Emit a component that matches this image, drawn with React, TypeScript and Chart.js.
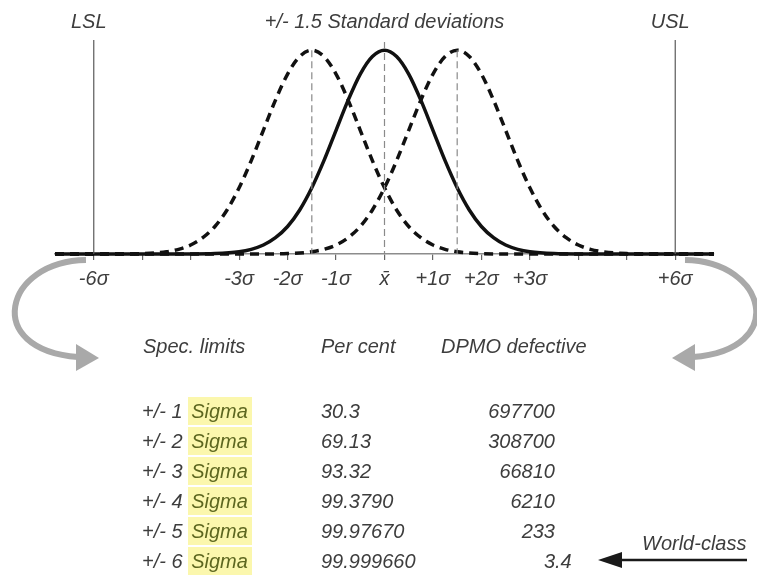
import { useEffect, useRef } from 'react';
import { Chart, registerables, type Plugin } from 'chart.js';

Chart.register(...registerables);

// ── Data ─────────────────────────────────────────────────────────────────────

const chartTitle = '+/- 1.5 Standard deviations';

// x axis, in standard deviations from the mean
const axisMin = -6.8;
const axisMax = 6.8;
const sigmaTicks = [-6, -5, -4, -3, -2, -1, 0, 1, 2, 3, 4, 5, 6];
const sigmaLabels = ['-6σ', '', '', '-3σ', '-2σ', '-1σ', 'x̄', '+1σ', '+2σ', '+3σ', '', '', '+6σ'];

// bell curve (relative height, peak = 1)
const curveSteps = [
  -4, -3.5, -3, -2.75, -2.5, -2.25, -2, -1.75, -1.5, -1.25, -1, -0.75, -0.5, -0.25, 0,
  0.25, 0.5, 0.75, 1, 1.25, 1.5, 1.75, 2, 2.25, 2.5, 2.75, 3, 3.5, 4,
];
const curveHeights = [
  0.0003, 0.002, 0.011, 0.023, 0.044, 0.08, 0.135, 0.216, 0.325, 0.458, 0.607, 0.755, 0.883, 0.969, 1,
  0.969, 0.883, 0.755, 0.607, 0.458, 0.325, 0.216, 0.135, 0.08, 0.044, 0.023, 0.011, 0.002, 0.0003,
];

const centerMean = 0;
const shiftedMeans = [-1.5, 1.5];
const specLimits = [-6, 6];
const specLabels = ['LSL', 'USL'];

// table
const tableHeaders = ['Spec. limits', 'Per cent', 'DPMO defective'];
const sigmaLevels = [1, 2, 3, 4, 5, 6];
const perCent = ['30.3', '69.13', '93.32', '99.3790', '99.97670', '99.999660'];
const dpmo = ['697700', '308700', '66810', '6210', '233', '3.4'];
const worldClassLabel = 'World-class';

// ── Styles ───────────────────────────────────────────────────────────────────

const FONT = '"Liberation Sans", Arial, Helvetica, sans-serif';
const INK = '#111111';
const TEXT = '#3d3d3d';
const ARROW_GREY = '#a9a9a9';

const W = 757;
const H = 575;

const annotations: Plugin<'line'> = {
  id: 'annotations',
  afterDraw(chart) {
    const { ctx } = chart;
    const xs = chart.scales.x;
    ctx.save();

    // LSL / USL labels
    ctx.font = `italic 20px ${FONT}`;
    ctx.fillStyle = TEXT;
    ctx.textAlign = 'center';
    ctx.textBaseline = 'middle';
    specLimits.forEach((v, i) => {
      ctx.fillText(specLabels[i], xs.getPixelForValue(v) - 5, 22);
    });

    // curved grey arrows from the axis ends down to the table
    const drawCurl = (dir: 1 | -1) => {
      const cx = 385.5;
      const mx = (x: number) => cx + dir * (x - cx);
      ctx.strokeStyle = ARROW_GREY;
      ctx.fillStyle = ARROW_GREY;
      ctx.lineWidth = 6;
      ctx.lineCap = 'butt';
      ctx.beginPath();
      ctx.moveTo(mx(86), 260);
      ctx.bezierCurveTo(mx(4), 261, mx(-18), 350, mx(78), 357);
      ctx.stroke();
      ctx.beginPath();
      ctx.moveTo(mx(99), 358);
      ctx.lineTo(mx(76), 344);
      ctx.lineTo(mx(76), 371);
      ctx.closePath();
      ctx.fill();
    };
    drawCurl(1);
    drawCurl(-1);

    // world-class arrow
    ctx.strokeStyle = '#1a1a1a';
    ctx.fillStyle = '#1a1a1a';
    ctx.lineWidth = 2.5;
    ctx.beginPath();
    ctx.moveTo(747, 560);
    ctx.lineTo(616, 560);
    ctx.stroke();
    ctx.beginPath();
    ctx.moveTo(598, 560);
    ctx.lineTo(622, 552);
    ctx.lineTo(622, 568);
    ctx.closePath();
    ctx.fill();

    ctx.restore();
  },
};

// curve around a mean, with flat tails running out to both axis ends
function curveData(mean: number) {
  return [
    { x: axisMin, y: 0 },
    ...curveSteps.map((s, i) => ({ x: mean + s, y: curveHeights[i] })),
    { x: axisMax, y: 0 },
  ].filter((p, i, arr) => i === 0 || p.x > arr[i - 1].x);
}

function verticalData(x: number, top: number) {
  return [{ x, y: top }, { x, y: 0 }];
}

export default function App() {
  const canvasRef = useRef<HTMLCanvasElement>(null);

  useEffect(() => {
    document.body.style.margin = '0';
    if (!canvasRef.current) return;

    const line = { pointRadius: 0, clip: false as const, fill: false, tension: 0 };

    const chart = new Chart(canvasRef.current, {
      type: 'line',
      data: {
        datasets: [
          // spec limits
          ...specLimits.map(v => ({
            ...line,
            data: verticalData(v, 1.05),
            borderColor: '#5a5a5a',
            borderWidth: 1.2,
          })),
          // mean markers
          {
            ...line,
            data: verticalData(centerMean, 1.04),
            borderColor: '#8a8a8a',
            borderWidth: 1.2,
            borderDash: [7, 4],
          },
          ...shiftedMeans.map(m => ({
            ...line,
            data: verticalData(m, 1),
            borderColor: '#8a8a8a',
            borderWidth: 1.2,
            borderDash: [7, 4],
          })),
          // shifted process curves
          ...shiftedMeans.map(m => ({
            ...line,
            data: curveData(m),
            borderColor: INK,
            borderWidth: 3.5,
            borderDash: [9, 6],
            cubicInterpolationMode: 'monotone' as const,
          })),
          // centred process
          {
            ...line,
            data: curveData(centerMean),
            borderColor: INK,
            borderWidth: 3.5,
            cubicInterpolationMode: 'monotone' as const,
          },
        ],
      },
      options: {
        responsive: true,
        maintainAspectRatio: false,
        animation: false,
        parsing: false,
        layout: { padding: { left: 55, right: 43, top: 0, bottom: 277 } },
        plugins: {
          legend: { display: false },
          tooltip: { enabled: false },
          title: {
            display: true,
            text: chartTitle,
            color: TEXT,
            font: { family: FONT, size: 20, style: 'italic', weight: 'normal' },
            padding: { top: 10, bottom: 6 },
          },
        },
        scales: {
          x: {
            type: 'linear',
            min: axisMin,
            max: axisMax,
            afterBuildTicks: scale => {
              scale.ticks = sigmaTicks.map(value => ({ value }));
            },
            grid: {
              display: true,
              drawOnChartArea: false,
              drawTicks: true,
              tickLength: 6,
              color: '#666666',
              lineWidth: 1.2,
            },
            border: { display: true, color: '#8c8c8c', width: 1.5 },
            ticks: {
              autoSkip: false,
              maxRotation: 0,
              padding: 7,
              color: TEXT,
              font: { family: FONT, size: 20, style: 'italic' },
              callback: (_v, i) => sigmaLabels[i] ?? '',
            },
          },
          y: { display: false, min: 0, max: 1.05 },
        },
      },
      plugins: [annotations],
    });

    return () => chart.destroy();
  }, []);

  const cell: React.CSSProperties = {
    position: 'absolute',
    fontFamily: FONT,
    fontStyle: 'italic',
    fontSize: '20px',
    color: TEXT,
    lineHeight: '30px',
    whiteSpace: 'nowrap',
  };
  const rowTop = (i: number) => 396 + i * 30;

  return (
    <div style={{ position: 'relative', width: W, height: H, background: '#fff', overflow: 'hidden' }}>
      <div style={{ position: 'absolute', left: 0, top: 0, width: W, height: H }}>
        <canvas ref={canvasRef} />
      </div>

      {/* Table headers */}
      <div style={{ ...cell, left: 143, top: 331 }}>{tableHeaders[0]}</div>
      <div style={{ ...cell, left: 321, top: 331 }}>{tableHeaders[1]}</div>
      <div style={{ ...cell, left: 441, top: 331 }}>{tableHeaders[2]}</div>

      {/* Table rows */}
      {sigmaLevels.map((lvl, i) => {
        const [whole, frac] = dpmo[i].split('.');
        return (
          <div key={lvl}>
            <div style={{ ...cell, left: 142, top: rowTop(i) }}>
              +/- {lvl}{' '}
              <span style={{
                display: 'inline-block',
                lineHeight: '28px',
                background: '#fbf7ad',
                color: '#5d6720',
                padding: '0 4px 0 3px',
              }}>
                Sigma
              </span>
            </div>
            <div style={{ ...cell, left: 321, top: rowTop(i) }}>{perCent[i]}</div>
            <div style={{ ...cell, right: W - 555, top: rowTop(i), textAlign: 'right' }}>
              {whole}
              {frac && <span style={{ position: 'absolute', left: '100%' }}>.{frac}</span>}
            </div>
          </div>
        );
      })}

      <div style={{ ...cell, left: 642, top: 528 }}>{worldClassLabel}</div>
    </div>
  );
}
